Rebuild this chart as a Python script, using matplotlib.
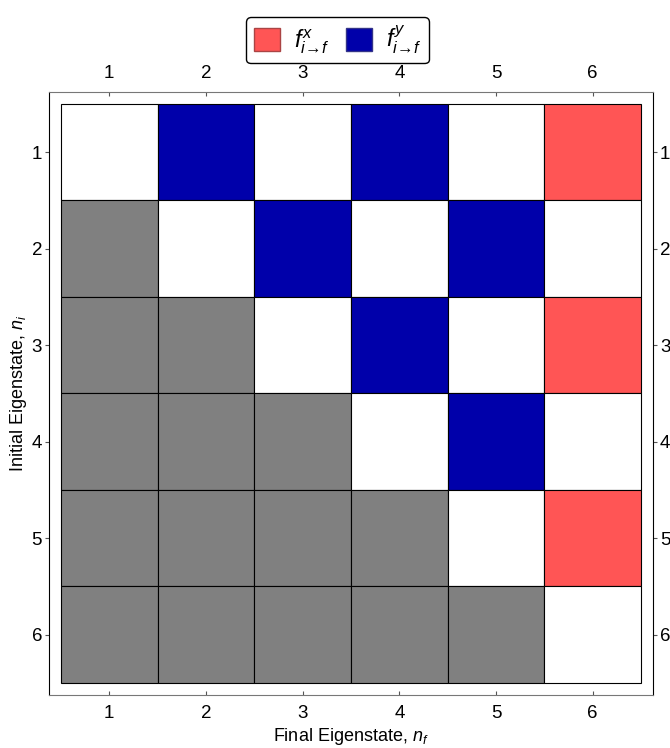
import matplotlib
matplotlib.use("Agg")
import matplotlib.pyplot as plt
from matplotlib.patches import Patch, Rectangle

plt.rcParams['font.family'] = ['Liberation Sans', 'DejaVu Sans']
plt.rcParams['mathtext.fontset'] = 'custom'
plt.rcParams['mathtext.rm'] = 'Liberation Sans'
plt.rcParams['mathtext.it'] = 'Liberation Sans:italic'

# 0 = allowed/none, 1 = x-polarised, 2 = y-polarised, 3 = lower triangle
states = [1, 2, 3, 4, 5, 6]
transition_map = [
    [0, 2, 0, 2, 0, 1],
    [3, 0, 2, 0, 2, 0],
    [3, 3, 0, 2, 0, 1],
    [3, 3, 3, 0, 2, 0],
    [3, 3, 3, 3, 0, 1],
    [3, 3, 3, 3, 3, 0],
]
colours = {0: 'white', 1: '#FF5555', 2: '#0000AA', 3: '#808080'}

fig = plt.figure(figsize=(6.7, 7.48), dpi=100)
ax = fig.add_axes([0.0731, 0.0709, 0.9015, 0.8061])

for i, row in enumerate(transition_map):
    for j, code in enumerate(row):
        ax.add_patch(Rectangle((states[j] - 0.5, states[i] - 0.5), 1, 1,
                               facecolor=colours[code], edgecolor='black',
                               linewidth=0.8))

ax.set_xlim(0.376, 6.624)
ax.set_ylim(6.624, 0.376)
ax.set_xticks(states)
ax.set_yticks(states)
ax.tick_params(axis='x', direction='in', top=True, labeltop=True,
               length=3, labelsize=13.5, pad=7, color='#555555')
ax.tick_params(axis='y', direction='out', right=True, labelright=True,
               length=3, labelsize=13.5, pad=2, color='#555555')
ax.spines['top'].set_color('#777777')
ax.spines['bottom'].set_color('#777777')

ax.set_xlabel('Final Eigenstate, $n_f$', fontsize=13, labelpad=3)
ax.set_ylabel('Initial Eigenstate, $n_i$', fontsize=13, labelpad=2)

handles = [
    Patch(facecolor=colours[1], edgecolor='#aa4444',
          label=r'$f^{x}_{i\!\rightarrow\!f}$'),
    Patch(facecolor=colours[2], edgecolor='#333388',
          label=r'$f^{y}_{i\!\rightarrow\!f}$'),
]
fig.legend(handles=handles, loc='upper center', bbox_to_anchor=(0.504, 0.993),
           ncol=2, fontsize=17, frameon=True, edgecolor='black', fancybox=True,
           handlelength=1.1, handleheight=1.1, columnspacing=0.7,
           handletextpad=0.6, borderpad=0.3, framealpha=1)

fig.savefig('out.png', dpi=100)
